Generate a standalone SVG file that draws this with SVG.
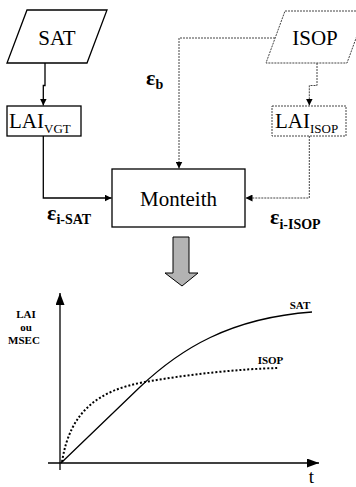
<svg xmlns="http://www.w3.org/2000/svg" width="356" height="487" viewBox="0 0 356 487" font-family="'Liberation Serif','Times New Roman',Tinos,'DejaVu Serif',serif">
<style>
text,tspan{font-family:'Liberation Serif','Times New Roman',Tinos,'DejaVu Serif',serif;fill:#000}
.big{font-size:21px}
.sub{font-size:13px}
.eps{font-size:22px;font-weight:bold}
.esub{font-size:14px;font-weight:bold}
.lab{font-size:11px;font-weight:bold}
.solid{fill:none;stroke:#000;stroke-width:1.3}
.dash{fill:none;stroke:#444;stroke-width:1;stroke-dasharray:2,1}
.node{fill:#fff;stroke:#000;stroke-width:1.3}
.dnode{fill:#fff;stroke:#444;stroke-width:1;stroke-dasharray:2,1}
</style>
<defs>
<marker id="ah" viewBox="0 0 10 10" refX="10" refY="5" markerWidth="7" markerHeight="7" markerUnits="userSpaceOnUse" orient="auto">
<path d="M0,0 L10,5 L0,10 z" fill="#000"/>
</marker>
<marker id="axh" viewBox="0 0 10 10" refX="10" refY="5" markerWidth="12" markerHeight="9" markerUnits="userSpaceOnUse" orient="auto" preserveAspectRatio="none">
<path d="M0,0 L10,5 L0,10 z" fill="#000"/>
</marker>
</defs>
<g id="connectors">
<path class="solid" d="M45,63 V85.5 H43.3 V105.5" marker-end="url(#ah)"/>
<path class="dash" d="M317,63 V85.5 H309.3 V105.5" marker-end="url(#ah)"/>
<path class="solid" d="M43.3,136 V198 H111.5" marker-end="url(#ah)"/>
<path class="dash" d="M309.3,136 V198 H245.5" marker-end="url(#ah)"/>
<path class="dash" d="M275,38 H179 V168.5" marker-end="url(#ah)"/>
</g>
<g id="SAT">
<polygon class="node" points="27,10 107,10 87,63 7,63"/>
<text class="big" x="57" y="44.5" text-anchor="middle">SAT</text>
</g>
<g id="ISOP">
<polygon class="dnode" points="285,11 366,11 347,63 266,63"/>
<text class="big" x="315" y="44.5" text-anchor="middle">ISOP</text>
</g>
<g id="LAI_VGT">
<rect class="node" x="7" y="106" width="74" height="30"/>
<text x="9" y="128"><tspan class="big">LAI</tspan><tspan class="sub" dy="5">VGT</tspan></text>
</g>
<g id="LAI_ISOP">
<rect class="dnode" x="272" y="106" width="74" height="30"/>
<text x="275" y="128"><tspan class="big">LAI</tspan><tspan class="sub" dy="5">ISOP</tspan></text>
</g>
<g id="Monteith">
<rect class="node" x="112" y="169" width="133" height="58"/>
<text class="big" x="178.5" y="206" text-anchor="middle">Monteith</text>
</g>
<g id="labels">
<text x="146" y="85"><tspan class="eps">ε</tspan><tspan class="esub" dy="4">b</tspan></text>
<text x="47" y="220"><tspan class="eps">ε</tspan><tspan class="esub" dy="4">i-SAT</tspan></text>
<text x="270" y="224"><tspan class="eps">ε</tspan><tspan class="esub" dy="5">i-ISOP</tspan></text>
</g>
<g id="bigarrow">
<path d="M173,237 H189 V273 H198 L182,286 L165,273 H173 Z" fill="#b3b3b3" stroke="#000" stroke-width="1"/>
</g>
<g id="graph">
<path class="solid" d="M60,470 V293" stroke-width="1.5" marker-end="url(#axh)"/>
<path class="solid" d="M48,463 H319" stroke-width="1.8" marker-end="url(#axh)"/>
<path class="solid" d="M61,463 L140,387 C180,349 230,318 312,312" stroke-width="1.5"/>
<path d="M62,462 C70,410 100,390 145,382 C190,374 240,369 278,368" fill="none" stroke="#000" stroke-width="2" stroke-dasharray="2,2"/>
<text class="lab" x="300" y="309" text-anchor="middle">SAT</text>
<text class="lab" x="270.5" y="364" text-anchor="middle">ISOP</text>
<text class="lab" x="26" y="318" text-anchor="middle">LAI</text>
<text class="lab" x="26" y="331" text-anchor="middle">ou</text>
<text class="lab" x="24" y="344" text-anchor="middle" font-size="10.5">MSEC</text>
<text x="311.5" y="483" text-anchor="middle" font-size="19">t</text>
</g>
</svg>
